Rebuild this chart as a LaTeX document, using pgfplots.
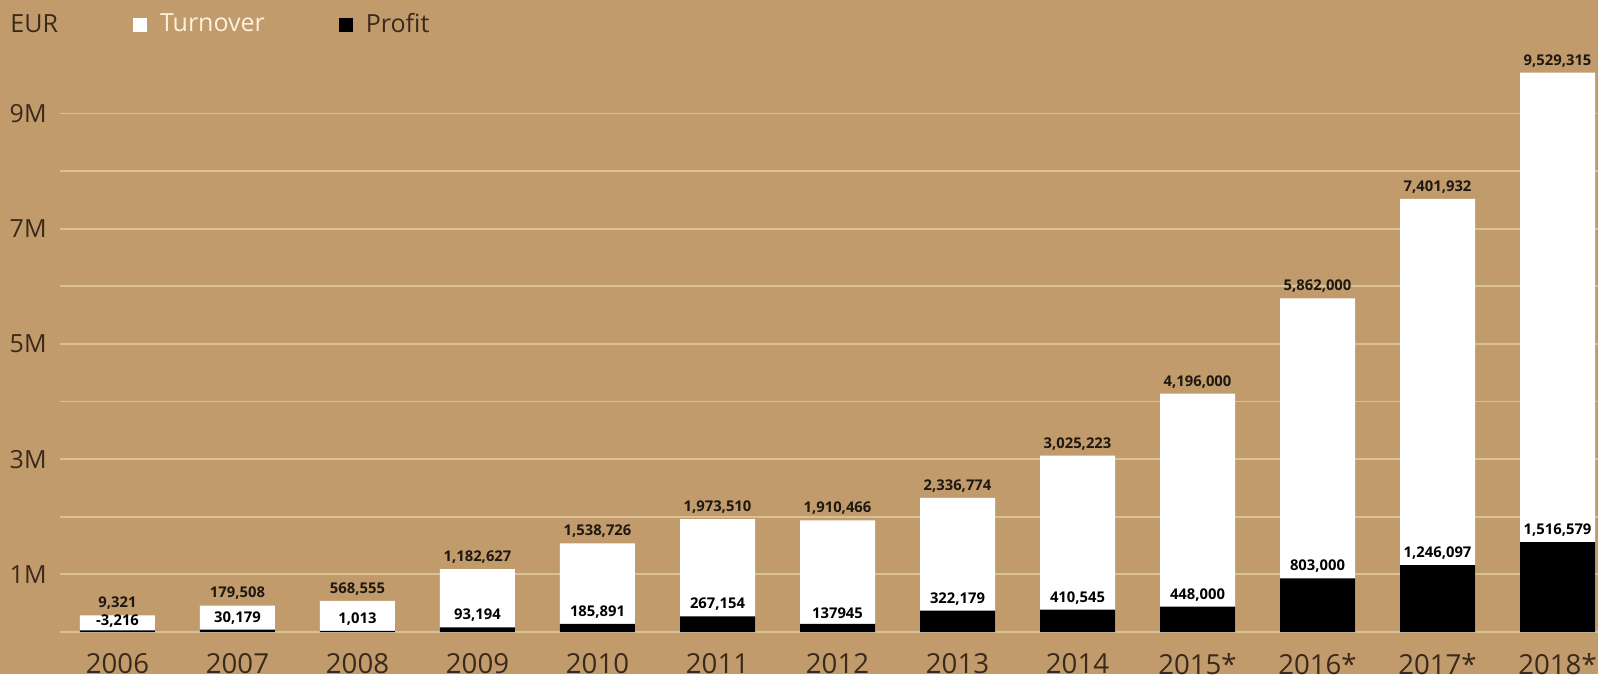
\documentclass[border=0pt]{standalone}
\usepackage{pgfplots}
\pgfplotsset{compat=1.18}
\usepackage{pgfplotstable}
\usepackage{fontspec}
\setmainfont{Open Sans}

\definecolor{bg}{HTML}{C19B6C}
\definecolor{gridc}{HTML}{DAC097}
\definecolor{txt}{HTML}{3A2A1B}
\definecolor{cream}{HTML}{FCF1DA}
\definecolor{lab}{HTML}{1F1810}

% bar heights in millions (as drawn), labels as printed, dy = extra label shift
\pgfplotstableread{
x tov  tlab      prof plab      dy
0 0.29 9,321     0.03 -3,216    -1.6
1 0.46 179,508   0.04 30,179    0
2 0.54 568,555   0.02 1,013     0
3 1.09 1,182,627 0.08 93,194    0
4 1.54 1,538,726 0.14 185,891   0
5 1.96 1,973,510 0.27 267,154   0
6 1.94 1,910,466 0.14 137945    0
7 2.33 2,336,774 0.37 322,179   0
8 3.06 3,025,223 0.39 410,545   0
9 4.14 4,196,000 0.44 448,000   0
10 5.79 5,862,000 0.93 803,000  0
11 7.52 7,401,932 1.16 1,246,097 0
12 9.71 9,529,315 1.56 1,516,579 0
}\data

\begin{document}
\begin{tikzpicture}
\fill[bg] (0,0) rectangle (799pt,337pt);
\useasboundingbox (0,0) rectangle (799pt,337pt);
\node[anchor=base west, text=txt, inner sep=0pt, font=\fontsize{12.5}{14}\selectfont] at (5pt,320.5pt) {EUR};
\begin{axis}[
    at={(30pt,21pt)}, anchor=south west,
    scale only axis, width=769pt, height=316pt,
    xmin=-0.479, xmax=12.3375,
    ymin=0, ymax=10.972,
    ybar, bar width=37.5pt, bar shift=0pt,
    axis line style={draw=none},
    major tick length=0pt,
    xtick={0,1,...,12},
    xticklabels={2006,2007,2008,2009,2010,2011,2012,2013,2014,2015*,2016*,2017*,2018*},
    ytick={0,1,2,3,4,5,6,7,8,9},
    yticklabels={,1M,,3M,,5M,,7M,,9M},
    scaled y ticks=false,
    ymajorgrids,
    grid style={gridc, line width=0.9pt},
    xticklabel style={font=\fontsize{13.8}{16}\selectfont, text=txt, anchor=north, inner sep=0pt, yshift=-10.5pt},
    yticklabel style={font=\fontsize{12.5}{14}\selectfont, text=txt, anchor=east, inner sep=0pt, xshift=-6.5pt},
    nodes near coords,
    point meta=explicit symbolic,
    nodes near coords style={font=\fontsize{7.4}{8}\selectfont\bfseries, anchor=south, inner sep=0pt, yshift=2.6pt},
    legend style={at={(axis description cs:0.0475,0.962)}, anchor=west,
        draw=none, fill=none, inner sep=0pt, outer sep=0pt,
        font=\fontsize{12.5}{14}\selectfont,
        nodes={inner sep=0pt},
        /tikz/every odd column/.append style={column sep=6.5pt},
        /tikz/every even column/.append style={column sep=37pt}},
    legend columns=-1,
    legend cell align=left,
]
\addplot[fill=white, draw=none,
    nodes near coords style={text=lab},
    legend image code/.code={\fill[white] (0pt,-4pt) rectangle (7pt,3pt);}]
    table[x=x, y=tov, meta=tlab] {\data};
\addlegendentry{\textcolor{cream}{Turnover}}
\addplot[fill=black, draw=none,
    visualization depends on={\thisrow{dy} \as \dy},
    nodes near coords style={text=black, yshift=\dy pt},
    legend image code/.code={\fill[black] (0pt,-4pt) rectangle (7pt,3pt);}]
    table[x=x, y=prof, meta=plab] {\data};
\addlegendentry{\textcolor{txt}{Profit}}
\end{axis}
\end{tikzpicture}
\end{document}
